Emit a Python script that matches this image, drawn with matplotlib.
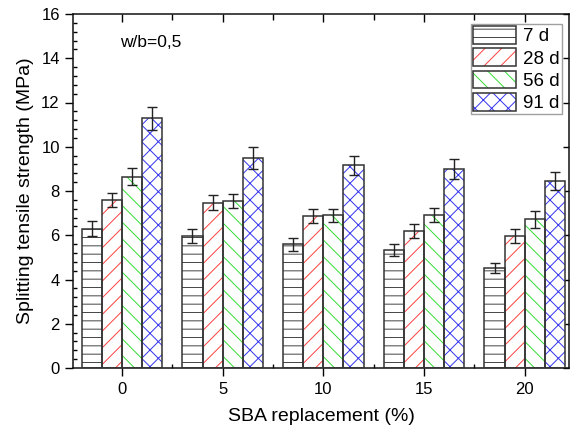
import matplotlib
matplotlib.use("Agg")
import matplotlib.pyplot as plt
import numpy as np
from matplotlib.patches import Patch
from matplotlib.ticker import MultipleLocator, FixedLocator

categories = ["0", "5", "10", "15", "20"]
series = ["7 d", "28 d", "56 d", "91 d"]
v7 = [6.3, 5.97, 5.59, 5.33, 4.53]
v28 = [7.6, 7.48, 6.87, 6.18, 5.97]
v56 = [8.65, 7.55, 6.9, 6.9, 6.72]
v91 = [11.28, 9.5, 9.16, 8.98, 8.44]
e7 = [0.33, 0.32, 0.30, 0.27, 0.23]
e28 = [0.32, 0.33, 0.30, 0.31, 0.33]
e56 = [0.40, 0.33, 0.30, 0.32, 0.38]
e91 = [0.53, 0.50, 0.43, 0.46, 0.41]

values = [v7, v28, v56, v91]
errors = [e7, e28, e56, e91]
hatches = ["--", "//", "\\\\", "xx"]
hcolors = ["#444444", "#ff4040", "#33dd33", "#3333ee"]
edge = "#333333"

plt.rcParams["font.family"] = ["Liberation Sans", "DejaVu Sans"]
plt.rcParams["hatch.linewidth"] = 0.7

fig = plt.figure(figsize=(5.7, 4.3), dpi=100)
ax = fig.add_axes([73/570, (430-368)/430, (569-73)/570, (368-14)/430])

x = np.arange(len(categories))
w = 0.2
handles = []
for i, (vals, errs, h, hc) in enumerate(zip(values, errors, hatches, hcolors)):
    pos = x + (i - 1.5) * w
    ax.bar(pos, vals, w, facecolor="white", edgecolor=hc, hatch=h, linewidth=0, zorder=2)
    ax.bar(pos, vals, w, facecolor="none", edgecolor=edge, linewidth=1.1, zorder=3)
    ax.errorbar(pos, vals, yerr=errs, fmt="none", ecolor="#222222", elinewidth=1.0,
                capsize=3.8, capthick=1.0, zorder=4)
    p1 = Patch(facecolor="white", edgecolor=hc, hatch=h, linewidth=0)
    p2 = Patch(facecolor="none", edgecolor=edge, linewidth=1.1)
    handles.append((p1, p2))

ax.set_xlim(-0.487, 4.44)
ax.set_ylim(0, 16)
ax.set_xticks(x)
ax.set_xticklabels(categories)
ax.xaxis.set_minor_locator(FixedLocator(x[:-1] + 0.5))
ax.yaxis.set_major_locator(MultipleLocator(2))
ax.yaxis.set_minor_locator(MultipleLocator(0.4))

ax.tick_params(axis="x", which="major", direction="out", length=6, width=1, top=True,
               labelsize=12, pad=4)
ax.tick_params(axis="x", which="minor", direction="in", length=3, width=1, top=True)
ax.tick_params(axis="y", which="major", direction="out", length=6, width=1, labelsize=12)
ax.tick_params(axis="y", which="minor", direction="in", length=3, width=1)
for t in ax.xaxis.get_major_ticks():
    t.tick2line.set_marker(3)
    t.tick2line.set_markersize(6)
for t in ax.xaxis.get_minor_ticks():
    t.tick2line.set_marker(3)
    t.tick2line.set_markersize(4)
ax.tick_params(axis="y", which="major", right=True)
for t in ax.yaxis.get_major_ticks():
    t.tick2line.set_marker(0)
    t.tick2line.set_markersize(4)

for s in ax.spines.values():
    s.set_linewidth(1.1)
    s.set_color("#111111")

ax.set_xlabel("SBA replacement (%)", fontsize=14, labelpad=8)
ax.set_ylabel("Splitting tensile strength (MPa)", fontsize=14, labelpad=5)

ax.text(0.095, 0.92, "w/b=0,5", transform=ax.transAxes, fontsize=12.5, ha="left", va="center")

leg = ax.legend(handles, series, loc="upper right",
                bbox_to_anchor=((562-73)/(569-73), (368-24)/(368-14)),
                borderaxespad=0, fontsize=13.5, frameon=True, fancybox=False,
                handlelength=2.3, handleheight=1.07, handletextpad=0.37,
                labelspacing=0.16, borderpad=0.12, edgecolor="#888888")
leg.get_frame().set_linewidth(1.0)

fig.savefig("out.png", dpi=100)
